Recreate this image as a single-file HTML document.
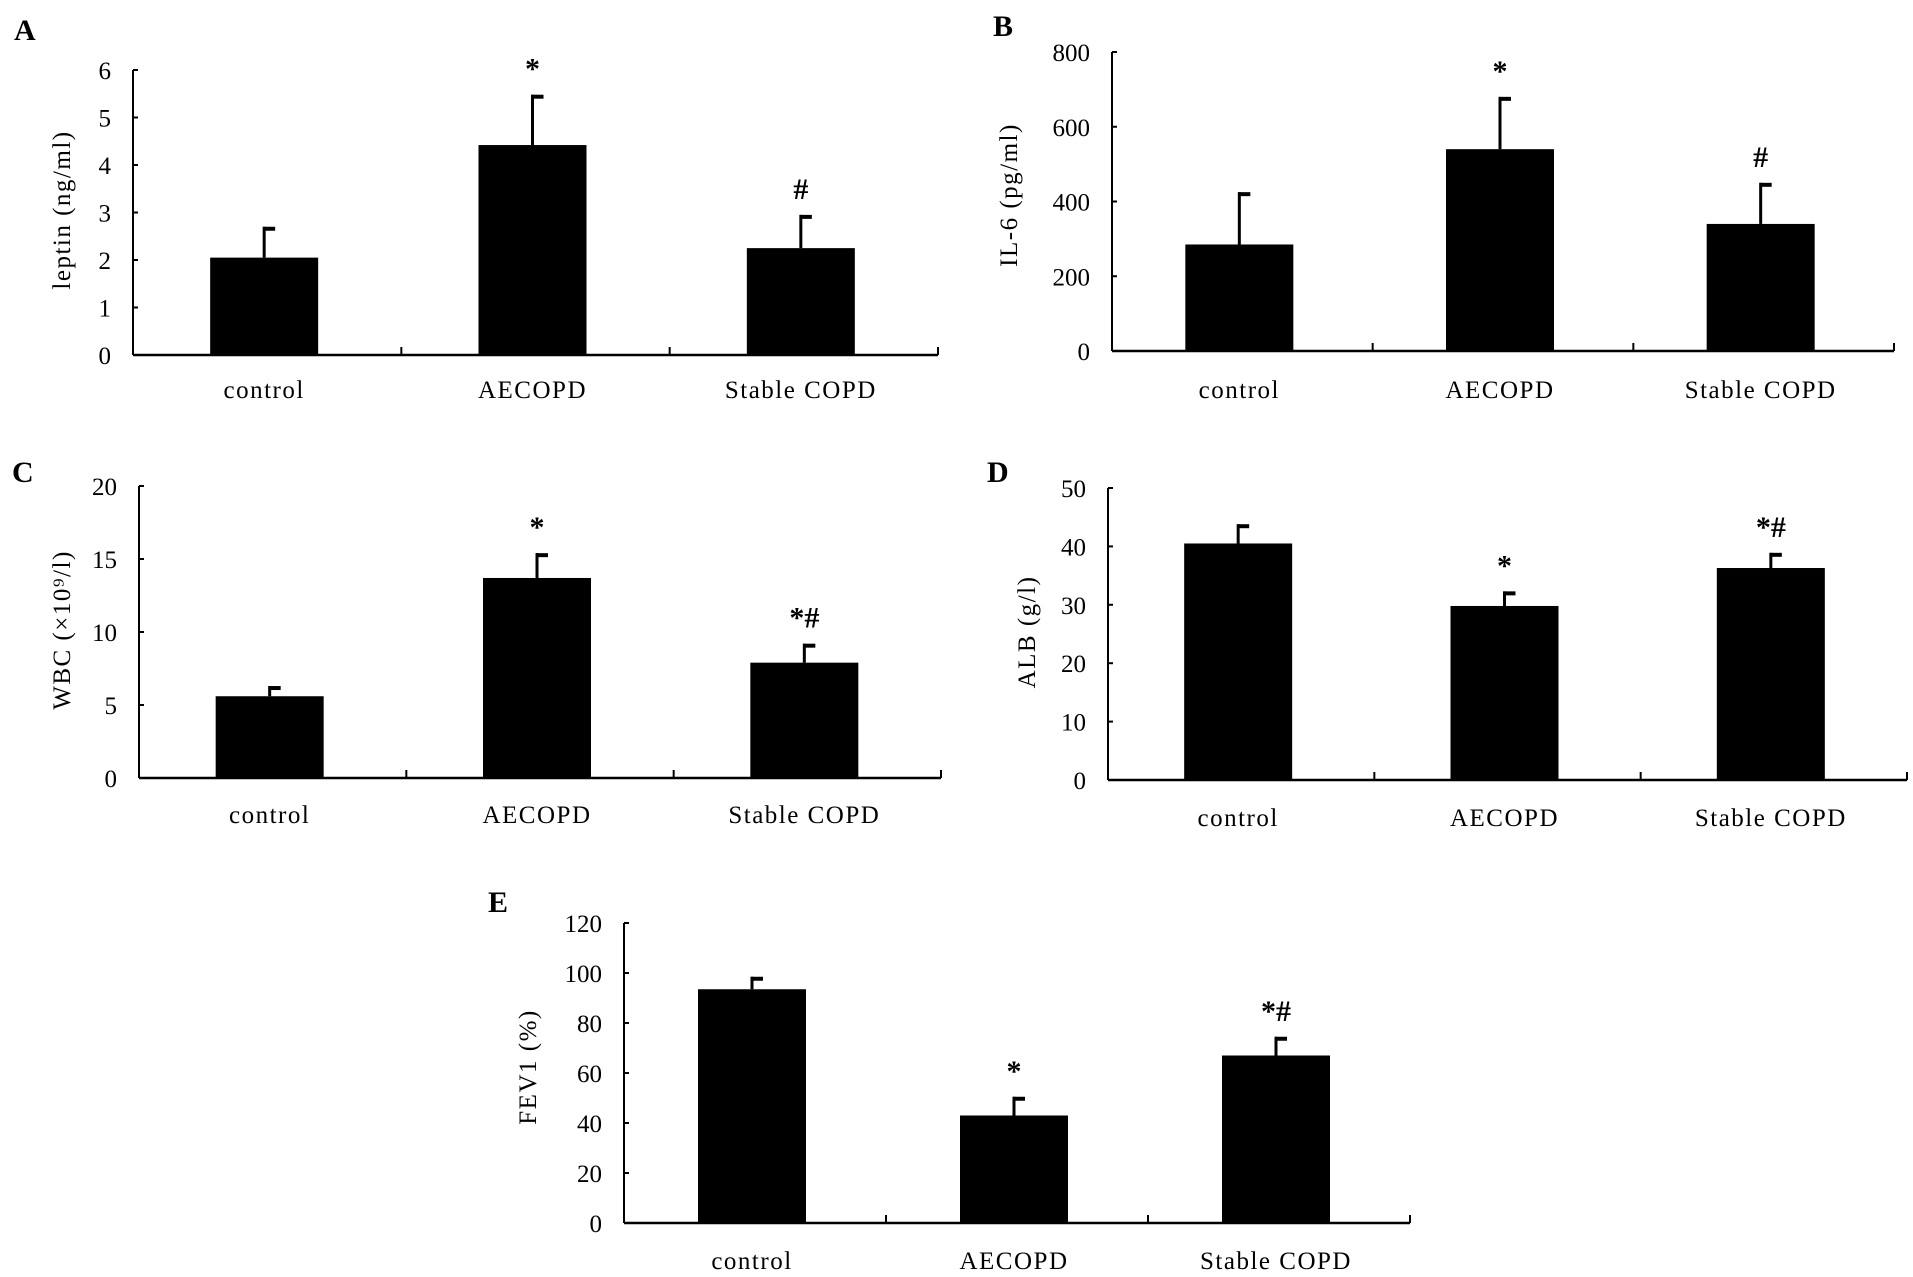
<!DOCTYPE html>
<html><head><meta charset="utf-8">
<style>
html,body{margin:0;padding:0;background:#fff;}
svg{display:block;}
text{font-family:"Liberation Serif","Noto Serif CJK SC",serif;fill:#000;}
</style></head>
<body>
<svg id="fig" width="1913" height="1277" viewBox="0 0 1913 1277"></svg>
<script>
const categories = ["control","AECOPD","Stable COPD"];
const leptinMeans = [2.05, 4.42, 2.25];
const leptinErr = [2.7, 5.48, 2.95];
const leptinTicks = [0,1,2,3,4,5,6];
const il6Means = [285, 540, 340];
const il6Err = [425, 680, 450];
const il6Ticks = [0,200,400,600,800];
const wbcMeans = [5.6, 13.7, 7.9];
const wbcErr = [6.3, 15.4, 9.2];
const wbcTicks = [0,5,10,15,20];
const albMeans = [40.5, 29.8, 36.3];
const albErr = [43.8, 32.3, 38.9];
const albTicks = [0,10,20,30,40,50];
const fevMeans = [93.5, 43, 67];
const fevErr = [98.5, 50.5, 74.5];
const fevTicks = [0,20,40,60,80,100,120];
const sigA = ["","*","#"];
const sigB = ["","*","#"];
const sigC = ["","*","*#"];
const sigD = ["","*","*#"];
const sigE = ["","*","*#"];

const NS = "http://www.w3.org/2000/svg";
const svg = document.getElementById("fig");
function mk(tag, attrs, parent){
  const e = document.createElementNS(NS, tag);
  for (const k in attrs) e.setAttribute(k, attrs[k]);
  (parent||svg).appendChild(e);
  return e;
}

function panel(p){
  const g = mk("g", {});
  
  
  const ymax = p.ticks[p.ticks.length-1];
  const Y = v => p.y0 - (v/ymax)*(p.y0 - p.yTop);
  const cw = (p.xR - p.x0)/categories.length;
  const X = i => p.x0 + cw*(i+0.5) - 3;
  const L = mk("text", {x:p.lx, y:p.ly, "font-size":30, "font-weight":"bold"}, g);
  L.textContent = p.letter;
  
  
  const ya = mk("line", {x1:p.x0, y1:p.yTop, x2:p.x0, y2:p.y0, stroke:"#000","stroke-width":2}, g);
  
  
  p.ticks.forEach(t=>{
    const y = Y(t);
    const tk = mk("line", {x1:p.x0, y1:y, x2:p.x0+5, y2:y, stroke:"#000","stroke-width":2}, g);
    
    
    const tl = mk("text", {x:p.x0-22, y:y+9, "font-size":25, "text-anchor":"end"}, g);
    tl.textContent = t;
    
    
  });
  const xa = mk("line", {x1:p.x0, y1:p.y0, x2:p.xR, y2:p.y0, stroke:"#000","stroke-width":2.5}, g);
  
  
  for (let i=1;i<=categories.length;i++){
    const x = p.x0 + cw*i;
    const ct = mk("line", {x1:x, y1:p.y0-8, x2:x, y2:p.y0, stroke:"#000","stroke-width":2}, g);
    
    
  }
  const yl = mk("text", {x:0, y:0, "font-size":25, "text-anchor":"middle", "letter-spacing":"1.5",
    transform:`translate(${p.ylx},${p.yly}) rotate(-90)`}, g);
  yl.textContent = p.ylabel;
  
  
  const bw = 108;
  categories.forEach((c,i)=>{
    const cx = X(i);
    const top = Y(p.means[i]);
    const et = Y(p.err[i]);
    const eb = mk("line", {x1:cx, y1:et, x2:cx, y2:top, stroke:"#000","stroke-width":3}, g);
    
    
    const cap = mk("line", {x1:cx-1, y1:et+2, x2:cx+11, y2:et+2, stroke:"#000","stroke-width":4}, g);
    
    
    const r = mk("rect", {x:cx-bw/2, y:top, width:bw, height:p.y0-top, fill:"#000"}, g);
    
    
    if (p.sig[i]){
      const s = mk("text", {x:cx, y:et-16, "font-size":30, "font-weight":"bold", "text-anchor":"middle"}, g);
      s.textContent = p.sig[i];
      
      
    }
    const cl = mk("text", {x:cx, y:p.catY, "font-size":25, "text-anchor":"middle", "letter-spacing":"1.5"}, g);
    cl.textContent = c;
    
    
  });
}

panel({letter:"A", lx:14, ly:40, x0:133, xR:938, yTop:70, y0:355, ticks:leptinTicks, means:leptinMeans, err:leptinErr, sig:sigA, ylabel:"leptin (ng/ml)", ylx:70, yly:210, catY:398});
panel({letter:"B", lx:993, ly:36, x0:1112, xR:1894, yTop:52, y0:351, ticks:il6Ticks, means:il6Means, err:il6Err, sig:sigB, ylabel:"IL-6 (pg/ml)", ylx:1017, yly:195, catY:398});
panel({letter:"C", lx:12, ly:482, x0:139, xR:941, yTop:486, y0:778, ticks:wbcTicks, means:wbcMeans, err:wbcErr, sig:sigC, ylabel:"WBC (×10⁹/l)", ylx:70, yly:630, catY:823});
panel({letter:"D", lx:987, ly:482, x0:1108, xR:1907, yTop:488, y0:780, ticks:albTicks, means:albMeans, err:albErr, sig:sigD, ylabel:"ALB (g/l)", ylx:1035, yly:632, catY:826});
panel({letter:"E", lx:488, ly:912, x0:624, xR:1410, yTop:923, y0:1223, ticks:fevTicks, means:fevMeans, err:fevErr, sig:sigE, ylabel:"FEV1 (%)", ylx:536, yly:1067, catY:1269});
</script>
</body></html>
